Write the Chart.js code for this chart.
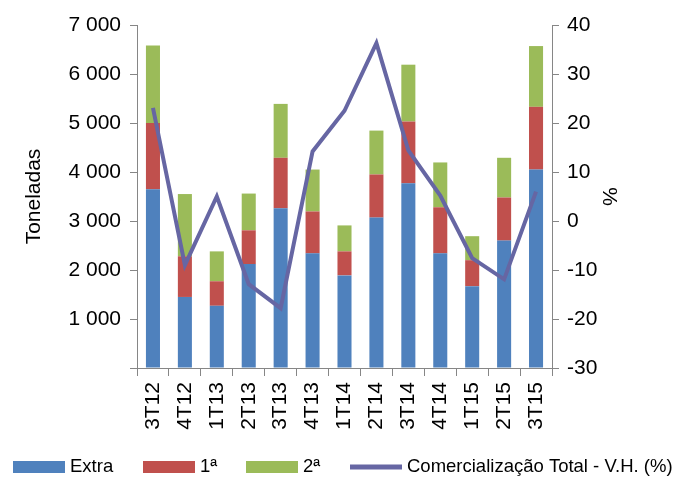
<!DOCTYPE html>
<html>
<head>
<meta charset="utf-8">
<script src="https://cdn.jsdelivr.net/npm/chart.js@4.4.1/dist/chart.umd.min.js"></script>
<style>
  html, body { margin: 0; padding: 0; background: #fff; }
  #wrap { width: 677px; height: 479px; }
</style>
</head>
<body>
<div id="wrap"><canvas id="myChart"></canvas></div>
<script>
const quarters = ["3T12", "4T12", "1T13", "2T13", "3T13", "4T13", "1T14", "2T14", "3T14", "4T14", "1T15", "2T15", "3T15"];
const extra = [3650, 1450, 1270, 2120, 3260, 2340, 1890, 3070, 3770, 2340, 1670, 2600, 4050];
const primeira = [1350, 830, 500, 690, 1030, 855, 490, 880, 1260, 940, 530, 880, 1280];
const segunda = [1580, 1270, 610, 750, 1100, 855, 530, 895, 1160, 915, 490, 810, 1240];
const variacao = [23.1, -9.0, 5.0, -12.9, -17.8, 14.2, 22.5, 36.3, 14.4, 5.2, -7.6, -11.9, 6.0];

const axisGray = "#868686";
const family = "'Liberation Sans', Arial, sans-serif";
const font = { family: family, size: 21 };

// legend drawn by hand so it stays on one row like the original
const bottomLegend = {
  id: "bottomLegend",
  afterDraw(chart) {
    const c = chart.ctx;
    const ds = chart.data.datasets;
    const y = 467;
    const items = [
      { ds: ds[1], x: 13 },
      { ds: ds[2], x: 143 },
      { ds: ds[3], x: 246 },
      { ds: ds[0], x: 350 },
    ];
    c.save();
    c.font = "18.5px " + family;
    c.textBaseline = "middle";
    items.forEach((it) => {
      if (it.ds.type === "line") {
        c.strokeStyle = it.ds.borderColor;
        c.lineWidth = 5;
        c.beginPath();
        c.moveTo(it.x, y);
        c.lineTo(it.x + 52, y);
        c.stroke();
      } else {
        c.fillStyle = it.ds.backgroundColor;
        c.fillRect(it.x, y - 6, 52, 12);
      }
      c.fillStyle = "#000";
      c.fillText(it.ds.label, it.x + 57, y);
    });
    c.restore();
  },
};

const ctx = document.getElementById("myChart");
const chart = new Chart(ctx, {
  type: "bar",
  data: {
    labels: quarters,
    datasets: [
      {
        type: "line",
        label: "Comercialização Total - V.H. (%)",
        data: variacao,
        yAxisID: "y1",
        borderColor: "#6666A3",
        backgroundColor: "#6666A3",
        borderWidth: 4,
        pointRadius: 0,
        tension: 0,
        order: 0,
      },
      { label: "Extra", data: extra, backgroundColor: "#4F81BD", stack: "s", order: 1 },
      { label: "1ª", data: primeira, backgroundColor: "#C0504D", stack: "s", order: 1 },
      { label: "2ª", data: segunda, backgroundColor: "#9BBB59", stack: "s", order: 1 },
    ],
  },
  options: {
    responsive: true,
    maintainAspectRatio: false,
    animation: false,
    layout: { padding: { top: 25, left: 22, right: 56, bottom: 33 } },
    datasets: { bar: { barPercentage: 0.44, categoryPercentage: 1 } },
    plugins: {
      tooltip: { enabled: false },
      legend: { display: false },
    },
    scales: {
      x: {
        stacked: true,
        offset: true,
        border: { color: axisGray },
        grid: { offset: true, drawOnChartArea: false, tickLength: 8, color: axisGray },
        ticks: { color: "#000", font: font, minRotation: 90, maxRotation: 90, padding: 6 },
        afterFit: (s) => { s.height = 78; },
      },
      y: {
        stacked: true,
        position: "left",
        min: 0,
        max: 7000,
        border: { color: axisGray },
        grid: { drawOnChartArea: false, tickLength: 7, color: axisGray },
        ticks: {
          stepSize: 1000,
          color: "#000",
          font: font,
          padding: 9,
          callback: (v) => (v === 0 ? "" : String(v).replace(/\B(?=(\d{3})+(?!\d))/g, " ")),
        },
        title: { display: true, text: "Toneladas", color: "#000", font: font, padding: 0 },
        afterFit: (s) => { s.width = 115; },
      },
      y1: {
        position: "right",
        min: -30,
        max: 40,
        border: { color: axisGray },
        grid: { drawOnChartArea: false, tickLength: 7, color: axisGray },
        ticks: { stepSize: 10, color: "#000", font: font, padding: 8 },
        title: { display: true, text: "%", color: "#000", font: font, padding: 0 },
        afterFit: (s) => { s.width = 69; },
      },
    },
  },
  plugins: [bottomLegend],
});
</script>
</body>
</html>
